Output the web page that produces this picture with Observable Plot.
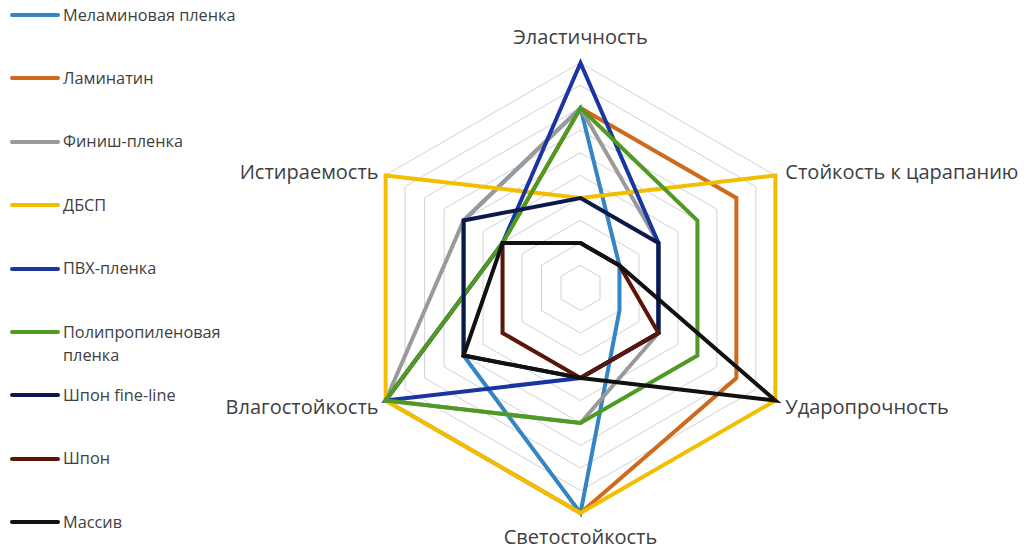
<!DOCTYPE html>
<html>
<head>
<meta charset="utf-8">
<script src="https://cdn.jsdelivr.net/npm/d3@7"></script>
<script src="https://cdn.jsdelivr.net/npm/@observablehq/plot@0.6"></script>
<style>
  body { margin: 0; background: #fff; font-family: "Open Sans", sans-serif; }
  #wrap { position: relative; width: 1024px; height: 555px; overflow: hidden; }
  #legend { position: absolute; left: 0; top: 0; }
  .item { position: absolute; left: 10px; display: flex; align-items: flex-start; font-size: 16.3px; line-height: 23px; color: #404040; }
  .sw { width: 50px; height: 4px; border-radius: 2px; margin-top: 9.5px; margin-right: 3px; flex: none; }
  .lab { width: 185px; }
</style>
</head>
<body>
<div id="wrap"><div id="chart"></div><div id="legend"></div></div>
<script>
// Axes (clockwise from top)
const axes = ["Эластичность", "Стойкость к царапанию", "Ударопрочность", "Светостойкость", "Влагостойкость", "Истираемость"];
// Grid levels
const levels = [1, 2, 3, 4, 5, 6, 7, 8, 9, 10];
// Series names and colours
const seriesNames = ["Меламиновая пленка", "Ламинатин", "Финиш-пленка", "ДБСП", "ПВХ-пленка", "Полипропиленовая пленка", "Шпон fine-line", "Шпон", "Массив"];
const seriesColors = ["#3385c6", "#cf6a1c", "#9a9a9a", "#f2be00", "#1a35a0", "#4f9a22", "#0c1a4a", "#5a1606", "#111111"];
// Values per series, in axis order
const melamine      = [8, 2, 2, 10, 6, 6];
const laminatin     = [8, 8, 8, 10, 10, 4];
const finish        = [8, 4, 4, 6, 10, 6];
const dbsp          = [4, 10, 10, 10, 10, 10];
const pvc           = [10, 4, 4, 4, 10, 4];
const polypropylene = [8, 6, 6, 6, 10, 4];
const veneerFine    = [4, 4, 4, 4, 6, 6];
const veneer        = [2, 2, 4, 4, 4, 4];
const solid         = [2, 2, 10, 4, 6, 4];

const seriesValues = [melamine, laminatin, finish, dbsp, pvc, polypropylene, veneerFine, veneer, solid];

const rows = seriesNames.flatMap((name, s) =>
  seriesValues[s].map((v, i) => ({series: name, axis: axes[i], i, r: v})));
const gridRows = levels.flatMap(l => axes.map((a, i) => ({level: l, i, r: l})));

const ang = i => i * Math.PI / 3;
const px = d => d.r * Math.sin(ang(d.i));
const py = d => d.r * Math.cos(ang(d.i));

const unit = 22.5, cx = 580, cy = 287.5, W = 1024, H = 555;
const maxLevel = levels[levels.length - 1];

const labelSpec = [
  {anchor: "middle", dx: 0, dy: -25},
  {anchor: "start", dx: 10, dy: -3},
  {anchor: "start", dx: 10, dy: 7},
  {anchor: "middle", dx: 0, dy: 25},
  {anchor: "end", dx: -7, dy: 7},
  {anchor: "end", dx: -7, dy: -3}
];

const chart = Plot.plot({
  width: W, height: H, margin: 0,
  style: {fontFamily: "Open Sans, sans-serif", background: "transparent"},
  x: {domain: [-cx / unit, (W - cx) / unit], axis: null},
  y: {domain: [-(H - cy) / unit, cy / unit], axis: null},
  color: {domain: seriesNames, range: seriesColors},
  marks: [
    Plot.line(gridRows, {x: px, y: py, z: "level", curve: "linear-closed", stroke: "#d2d2d2", strokeWidth: 1}),
    Plot.line(rows, {x: px, y: py, z: "series", stroke: "series", curve: "linear-closed", strokeWidth: 4, strokeLinejoin: "miter", strokeMiterlimit: 4}),
    ...axes.map((a, i) => Plot.text([{axis: a, i, r: maxLevel}], {
      x: px, y: py, text: "axis", textAnchor: labelSpec[i].anchor,
      dx: labelSpec[i].dx, dy: labelSpec[i].dy, fontSize: 20, fill: "#404040"
    }))
  ]
});
document.getElementById("chart").appendChild(chart);

const legend = document.getElementById("legend");
seriesNames.forEach((name, s) => {
  const it = document.createElement("div");
  it.className = "item";
  it.style.top = (3.5 + s * 63.4) + "px";
  const sw = document.createElement("div");
  sw.className = "sw";
  sw.style.background = seriesColors[s];
  const lab = document.createElement("div");
  lab.className = "lab";
  lab.textContent = name;
  it.appendChild(sw); it.appendChild(lab);
  legend.appendChild(it);
});
</script>
</body>
</html>
